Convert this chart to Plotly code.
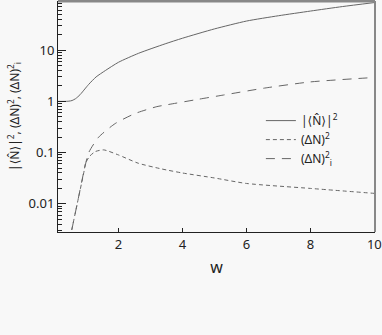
import plotly.graph_objects as go

# |<N>|^2
w_n2 = [0.1, 0.3, 0.45, 0.55, 0.66, 0.8, 0.95, 1.07, 1.3, 1.59, 2, 2.63, 3.46, 4, 5, 6, 7, 8, 9, 10]
n2 = [1, 1, 1.01, 1.04, 1.13, 1.35, 1.75, 2.15, 3.0, 4.0, 5.8, 8.7, 13.3, 17.1, 26, 37, 47, 58, 71, 85]

# (dN)^2
w_dn = [0.54, 0.7, 0.93, 0.97, 1.1, 1.28, 1.54, 2, 2.62, 3.35, 4, 5, 6, 8, 10]
dn = [0.0031, 0.0093, 0.045, 0.062, 0.085, 0.105, 0.113, 0.09, 0.062, 0.048, 0.040, 0.032, 0.025, 0.020, 0.016]

# (dN)_i^2
w_dni = [0.54, 0.7, 0.93, 1.07, 1.38, 1.9, 2.52, 3.2, 3.52, 4.5, 5.28, 6.57, 8, 10]
dni = [0.0031, 0.0093, 0.046, 0.1, 0.2, 0.37, 0.58, 0.79, 0.86, 1.1, 1.33, 1.82, 2.4, 2.93]

x_ticks = [2, 4, 6, 8, 10]
y_ticks = [0.01, 0.1, 1, 10]
y_labels = ["0.01", "0.1", "1", "10"]
y_minor = [m * d for d in [0.001, 0.01, 0.1, 1, 10] for m in range(2, 10)]

col = "#666666"
fnt = "Noto Sans"
lb = "<span style='font-family:DejaVu Sans'>⟨</span>"
rb = "<span style='font-family:DejaVu Sans'>⟩</span>"
n_lbl = "|" + lb + "N̂" + rb + "|<sup>2</sup>"

fig = go.Figure()
fig.add_trace(go.Scatter(x=w_n2, y=n2, mode="lines", line=dict(color=col, width=1, shape="spline", smoothing=0.6),
                         name=n_lbl))
fig.add_trace(go.Scatter(x=w_dn, y=dn, mode="lines", line=dict(color=col, width=1, dash="4px,3px", shape="spline", smoothing=0.6),
                         name="(ΔN)<sup>2</sup>"))
fig.add_trace(go.Scatter(x=w_dni, y=dni, mode="lines", line=dict(color=col, width=1, dash="9px,7px", shape="spline", smoothing=0.6),
                         name="(ΔN)<sup>2</sup><sub>i</sub>"))

fig.update_layout(
    width=382, height=335,
    margin=dict(l=58, r=7, t=1, b=103),
    paper_bgcolor="#f8f8f8", plot_bgcolor="#f8f8f8",
    font=dict(family=fnt, size=13, color="#222"),
    showlegend=True,
    legend=dict(x=0.64, y=0.545, xanchor="left", yanchor="top", bgcolor="rgba(0,0,0,0)",
                itemwidth=30, tracegroupgap=0, font=dict(size=12)),
    xaxis=dict(range=[0.11, 10.02], tickvals=x_ticks, ticks="inside", ticklen=4, tickcolor="#222",
               showline=True, linecolor="#222", linewidth=1, showgrid=False, zeroline=False,
               automargin=False, title=dict(text="w", standoff=10), tickfont=dict(size=13)),
    yaxis=dict(type="log", range=[-2.55, 1.96], tickvals=y_ticks, ticktext=y_labels,
               ticks="inside", ticklen=8, tickcolor="#222",
               minor=dict(tickmode="array", tickvals=y_minor, ticks="inside", ticklen=4,
                          tickcolor="#222", showgrid=False),
               showline=True, linecolor="#222", linewidth=1, showgrid=False, zeroline=False,
               automargin=False,
               title=dict(text="|" + lb + "N̂" + rb + "|<sup>2</sup>, (ΔN)<sup>2</sup>, (ΔN)<sup>2</sup><sub>i</sub>",
                          standoff=6, font=dict(size=12)),
               tickfont=dict(size=13)),
    shapes=[
        dict(type="line", xref="paper", yref="paper", x0=0, x1=1, y0=1, y1=1,
             line=dict(color="#888", width=3)),
        dict(type="line", xref="paper", yref="paper", x0=1, x1=1, y0=0, y1=1,
             line=dict(color="#888", width=2)),
    ],
)

fig.write_html("out.html", config={"displayModeBar": False},
               post_script="document.body.style.margin='0';document.body.style.background='#f8f8f8';")
